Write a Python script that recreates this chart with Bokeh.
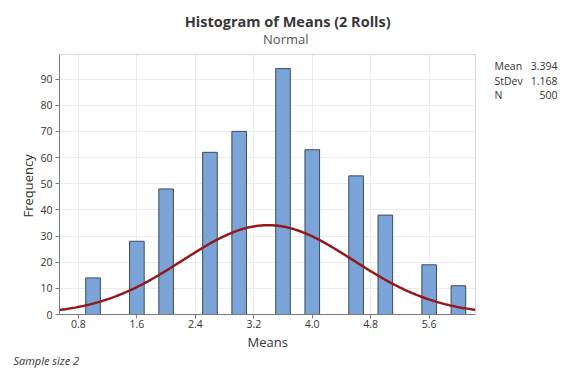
import math
from bokeh.plotting import figure
from bokeh.models import Range1d, FixedTicker, Label, Title, BoxAnnotation
from bokeh.embed import file_html
from bokeh.resources import INLINE

# ---- data ----
bin_centers = [1.0, 1.6, 2.0, 2.6, 3.0, 3.6, 4.0, 4.6, 5.0, 5.6, 6.0]
frequencies = [14, 28, 48, 62, 70, 94, 63, 53, 38, 19, 11]
bin_width = 0.2
x_ticks = [0.8, 1.6, 2.4, 3.2, 4.0, 4.8, 5.6]
x_tick_labels = ["0.8", "1.6", "2.4", "3.2", "4.0", "4.8", "5.6"]
y_ticks = [0, 10, 20, 30, 40, 50, 60, 70, 80, 90]
fit_mean = 3.394
fit_stdev = 1.168
fit_n = 500
stat_names = ["Mean", "StDev", "N"]
stat_values = ["3.394", "1.168", "500"]

# visible plot box (data units)
X_START, X_BOX_END = 0.541, 6.234
Y_START, Y_BOX_END = 0.0, 99.4

# pixel layout: plot box is 416 x 260 px, left 59, bottom 314
W, H = 560, 368
F_LEFT, F_BOTTOM = 59, 314
BOX_W, BOX_H = 416, 260
xpp = (X_BOX_END - X_START) / BOX_W
ypp = (Y_BOX_END - Y_START) / BOX_H
X_FRAME_END = X_START + (W - F_LEFT) * xpp
Y_FRAME_END = Y_START + F_BOTTOM * ypp

FONT = "Open Sans"
TXT = "#333333"
FRAME = "#7a7a7a"

p = figure(width=W, height=H, output_backend="svg", toolbar_location=None,
           x_range=Range1d(X_START, X_FRAME_END), y_range=Range1d(Y_START, Y_FRAME_END),
           min_border_left=F_LEFT, min_border_right=0,
           min_border_top=0, min_border_bottom=H - F_BOTTOM)
p.background_fill_color = "white"
p.border_fill_color = "white"
p.outline_line_color = None

p.xgrid.ticker = FixedTicker(ticks=x_ticks)
p.ygrid.ticker = FixedTicker(ticks=y_ticks)
p.grid.grid_line_color = "#ececec"
p.grid.grid_line_width = 1

p.xaxis.ticker = FixedTicker(ticks=x_ticks)
p.xaxis.major_label_overrides = {t: l for t, l in zip(x_ticks, x_tick_labels)}
p.yaxis.ticker = FixedTicker(ticks=y_ticks)
p.xaxis.bounds = (X_START, X_BOX_END)
p.yaxis.bounds = (Y_START, Y_BOX_END)
for ax in (p.xaxis, p.yaxis):
    ax.axis_line_color = FRAME
    ax.major_tick_line_color = FRAME
    ax.major_tick_out = 4
    ax.major_tick_in = 0
    ax.minor_tick_line_color = None
    ax.major_label_text_font = FONT
    ax.major_label_text_font_size = "10.5px"
    ax.major_label_text_color = TXT
p.xaxis.major_label_standoff = 1
p.yaxis.major_label_standoff = 3

# axis titles and footnote as side-panel titles (placed along the plot box)
p.add_layout(Title(text="Means", align="left", offset=188, text_font=FONT,
                   text_font_size="13px", text_font_style="normal", text_color=TXT,
                   standoff=0), "below")
p.add_layout(Title(text="Sample size 2", align="left", offset=-46, text_font=FONT,
                   text_font_size="11px", text_font_style="italic", text_color=TXT,
                   standoff=0), "below")
p.add_layout(Title(text="Frequency", align="left", offset=97, text_font=FONT,
                   text_font_size="13px", text_font_style="normal", text_color=TXT,
                   standoff=2, vertical_align="bottom"), "left")

# bars
p.vbar(x=bin_centers, top=frequencies, width=bin_width, bottom=0,
       fill_color="#7ba4d8", line_color="#3d4a5a", line_width=1)

# fitted normal curve from the shown Mean, StDev, N and the bin width
steps = 300
cx = [X_START + (X_BOX_END - X_START) * i / steps for i in range(steps + 1)]
scale = fit_n * bin_width / (fit_stdev * math.sqrt(2 * math.pi))
cy = [scale * math.exp(-0.5 * ((v - fit_mean) / fit_stdev) ** 2) for v in cx]
p.line(cx, cy, line_color="#921a1d", line_width=2.5)

# white masks outside the plot box (hide grid lines there), then the box border
p.add_layout(BoxAnnotation(left=X_BOX_END, right=X_FRAME_END + 1, bottom=Y_START - 1,
                           top=Y_FRAME_END + 1, fill_color="white", fill_alpha=1.0,
                           line_color=None))
p.add_layout(BoxAnnotation(left=X_START - 1, right=X_FRAME_END + 1, bottom=Y_BOX_END,
                           top=Y_FRAME_END + 1, fill_color="white", fill_alpha=1.0,
                           line_color=None))
p.add_layout(BoxAnnotation(left=X_START, right=X_BOX_END, bottom=Y_START, top=Y_BOX_END,
                           fill_color=None, line_color=FRAME, line_width=1))

def lab(text, px, py, size, align="center", color=TXT, style="normal"):
    p.add_layout(Label(x=X_START + (px - F_LEFT) * xpp, y=Y_START + (F_BOTTOM - py) * ypp,
                       text=text, text_font=FONT, text_font_size=size, text_color=color,
                       text_align=align, text_baseline="middle", text_font_style=style))

lab("Histogram of Means (2 Rolls)", 287.2, 21.0, "14.5px", color="#383838", style="bold")
lab("Normal", 285.3, 38.0, "13px", color="#555555")
rows_y = [65.5, 80.0, 94.5]
for name, val, ry in zip(stat_names, stat_values, rows_y):
    lab(name, 494.0, ry, "10.5px", align="left")
    lab(val, 557.0, ry, "10.5px", align="right")

open("out.html", "w").write(file_html(p, INLINE))
